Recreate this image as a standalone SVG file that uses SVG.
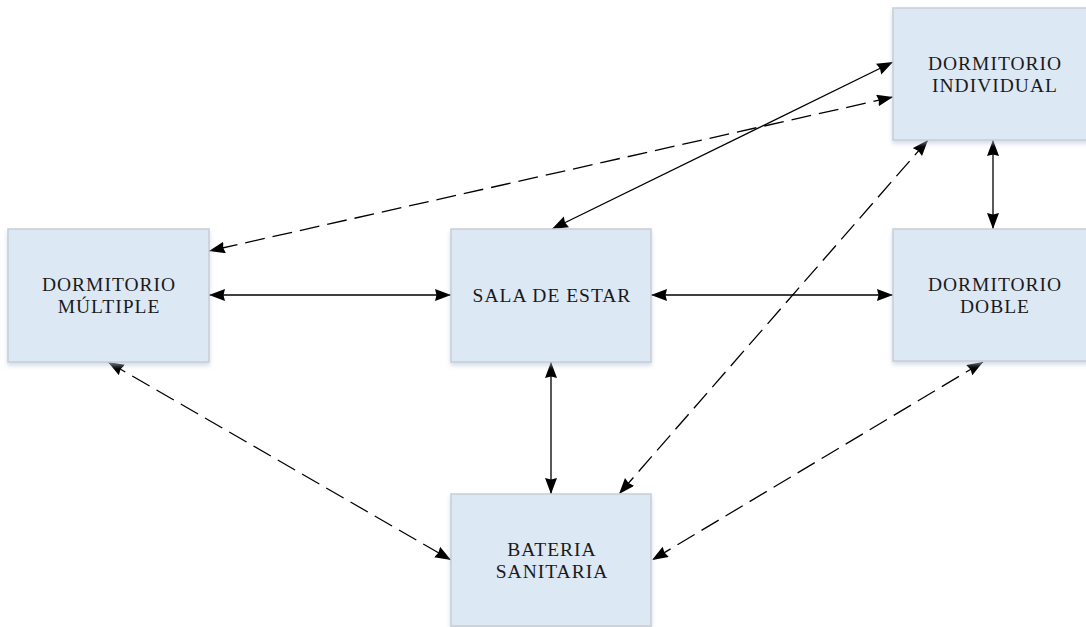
<svg xmlns="http://www.w3.org/2000/svg" width="1086" height="627" viewBox="0 0 1086 627">
<style>
.box{fill:#dde8f5;stroke:#c9cdd3;stroke-width:1.5}
.lbl{font-family:"Liberation Serif","Times New Roman",serif;font-size:19.5px;letter-spacing:1px;fill:#1a1a1a;text-anchor:middle}
.c{fill:none;stroke:#000;stroke-width:1.3;marker-start:url(#ah);marker-end:url(#ah)}
.d{stroke-dasharray:20,8}
</style>
<defs>
<marker id="ah" markerUnits="userSpaceOnUse" markerWidth="17" markerHeight="13" refX="16" refY="6" orient="auto-start-reverse">
<path d="M0,0 L16,6 L0,12 L1.5,6 z" fill="#000"/>
</marker>
<filter id="sh" x="-5%" y="-5%" width="110%" height="115%">
<feDropShadow dx="0" dy="3" stdDeviation="2" flood-color="#b8c8dc" flood-opacity="0.6"/>
</filter>
</defs>
<rect width="1086" height="627" fill="#fff"/>
<g id="connectors">
<line class="c" x1="893" y1="62" x2="552" y2="229"/>
<line class="c d" x1="893" y1="97" x2="209" y2="251"/>
<line class="c" x1="993" y1="140" x2="993" y2="229"/>
<line class="c" x1="209" y1="295" x2="451" y2="295"/>
<line class="c" x1="651" y1="295" x2="893" y2="295"/>
<line class="c" x1="551" y1="362" x2="551" y2="494"/>
<line class="c d" x1="108" y1="362" x2="451" y2="560"/>
<line class="c d" x1="928" y1="140" x2="619" y2="494"/>
<line class="c d" x1="983" y1="362" x2="652" y2="560"/>
</g>
<g id="dormitorio-individual">
<rect class="box" filter="url(#sh)" x="893" y="8" width="200" height="132"/>
<text class="lbl" x="995" y="70">DORMITORIO</text>
<text class="lbl" x="995" y="92">INDIVIDUAL</text>
</g>
<g id="dormitorio-multiple">
<rect class="box" filter="url(#sh)" x="8" y="229" width="201" height="133"/>
<text class="lbl" x="109" y="291">DORMITORIO</text>
<text class="lbl" x="109" y="313">MÚLTIPLE</text>
</g>
<g id="sala-de-estar">
<rect class="box" filter="url(#sh)" x="451" y="229" width="200" height="133"/>
<text class="lbl" x="552" y="302">SALA DE ESTAR</text>
</g>
<g id="dormitorio-doble">
<rect class="box" filter="url(#sh)" x="893" y="229" width="200" height="132"/>
<text class="lbl" x="995" y="291">DORMITORIO</text>
<text class="lbl" x="995" y="313">DOBLE</text>
</g>
<g id="bateria-sanitaria">
<rect class="box" filter="url(#sh)" x="451" y="494" width="200" height="132"/>
<text class="lbl" x="552" y="556">BATERIA</text>
<text class="lbl" x="552" y="578">SANITARIA</text>
</g>
</svg>
